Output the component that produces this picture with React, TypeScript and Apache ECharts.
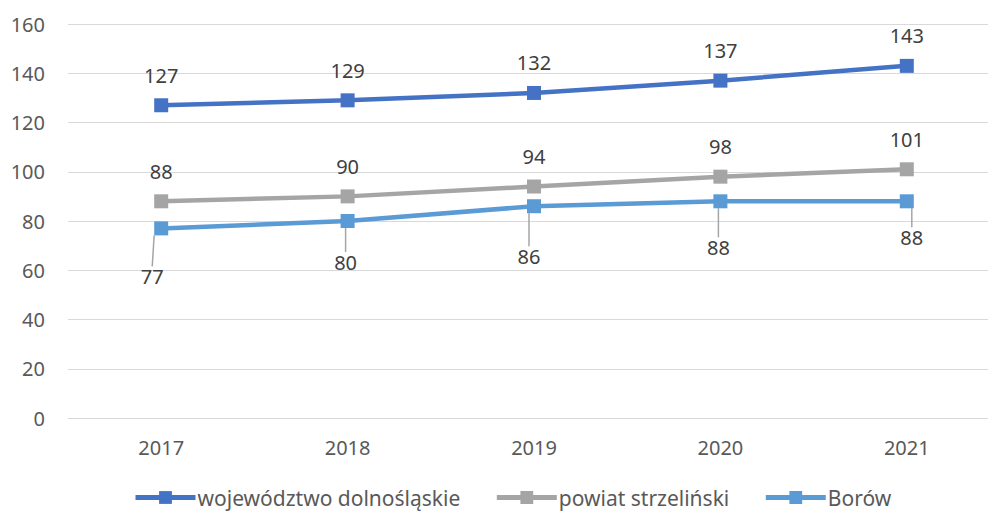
import React, { useEffect, useRef } from "react";
import * as echarts from "echarts";

const categories = ["2017", "2018", "2019", "2020", "2021"];
const dolnoslaskie = [127, 129, 132, 137, 143];
const strzelinski = [88, 90, 94, 98, 101];
const borow = [77, 80, 86, 88, 88];
const seriesNames = ["województwo dolnośląskie", "powiat strzeliński", "Borów"];
const yTicks = { min: 0, max: 160, interval: 20 };

// label displacement for Borów labels (layout only)
const borowLabelShift = [
  { dx: -9, dy: 26 },
  { dx: -2, dy: 19 },
  { dx: -5, dy: 28 },
  { dx: -2, dy: 24 },
  { dx: 5, dy: 14 },
];

const FONT = "'Noto Sans', 'Open Sans', sans-serif";

export default function App() {
  const ref = useRef<HTMLDivElement>(null);
  useEffect(() => {
    document.body.style.margin = "0";
    document.body.style.overflow = "hidden";
    document.documentElement.style.overflow = "hidden";
    const chart = echarts.init(ref.current!, null, { renderer: "svg" });
    const labelBase = {
      show: true,
      color: "#404040",
      fontSize: 20,
      fontFamily: FONT,
    };
    const mk = (name: string, data: number[], color: string) => ({
      name,
      type: "line",
      data,
      symbol: "rect",
      symbolSize: 14,
      lineStyle: { width: 4.5, color },
      itemStyle: { color },
      label: { ...labelBase, position: "top", distance: 13 },
    });
    chart.setOption({
      animation: false,
      grid: { left: 68, right: 0, top: 24, bottom: 95 },
      xAxis: {
        type: "category",
        data: categories,
        boundaryGap: true,
        axisLine: { lineStyle: { color: "#D9D9D9", width: 1 } },
        axisTick: { show: false },
        axisLabel: { color: "#595959", fontSize: 20, fontFamily: FONT, margin: 19 },
      },
      yAxis: {
        type: "value",
        min: yTicks.min,
        max: yTicks.max,
        interval: yTicks.interval,
        axisLine: { show: false },
        axisTick: { show: false },
        splitLine: { lineStyle: { color: "#D9D9D9", width: 1 } },
        axisLabel: { color: "#595959", fontSize: 20, fontFamily: FONT, margin: 23 },
      },
      legend: {
        bottom: 0,
        left: 128,
        itemWidth: 60,
        itemHeight: 16,
        itemGap: 34,
        lineStyle: { width: 5 },
        textStyle: { color: "#595959", fontSize: 21, fontFamily: FONT, padding: [0, 0, 0, -3] },
        data: seriesNames,
      },
      series: [
        mk(seriesNames[0], dolnoslaskie, "#4472C4"),
        mk(seriesNames[1], strzelinski, "#A5A5A5"),
        {
          ...mk(seriesNames[2], borow, "#5B9BD5"),
          label: { ...labelBase, position: "bottom", distance: 5 },
          labelLine: { show: true, lineStyle: { color: "#A5A5A5", width: 1.5 } },
          labelLayout: (p: any) => ({
            dx: borowLabelShift[p.dataIndex].dx,
            dy: borowLabelShift[p.dataIndex].dy,
          }),
        },
      ],
    });
    return () => chart.dispose();
  }, []);
  return (
    <div
      ref={ref}
      style={{ width: 1000, height: 513, position: "absolute", left: 0, top: 0, background: "#fff" }}
    />
  );
}
